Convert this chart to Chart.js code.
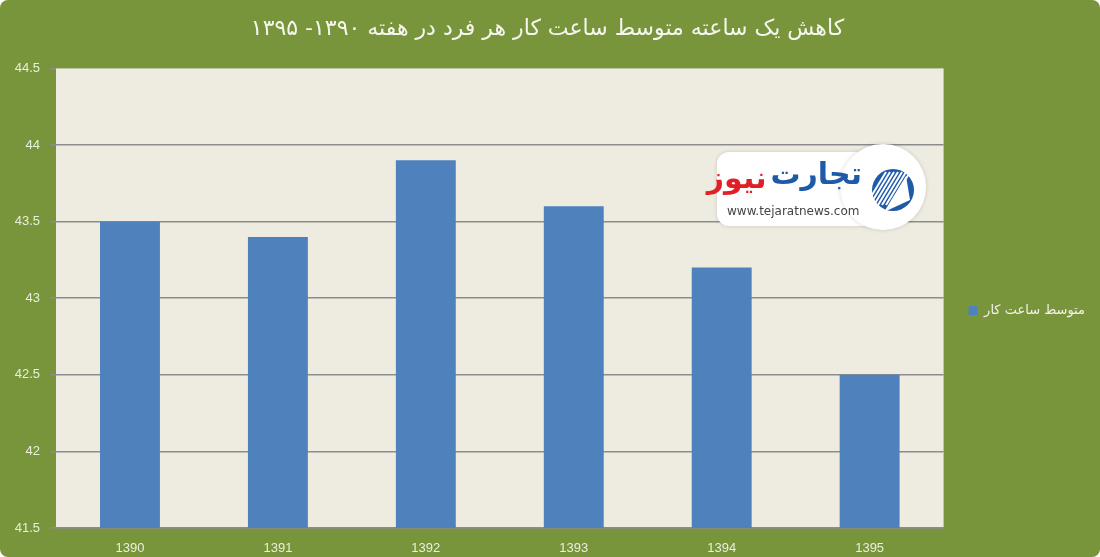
<!DOCTYPE html>
<html><head><meta charset="utf-8">
<script src="https://cdn.jsdelivr.net/npm/chart.js@4/dist/chart.umd.min.js"></script>
<style>
html,body{margin:0;padding:0;background:#ffffff;}
#wrap{width:1100px;height:557px;position:relative;background:#78953c;border-radius:8px;overflow:hidden;}
canvas{display:block}
</style></head><body>
<div id="wrap"><canvas id="c" width="1100" height="557"></canvas></div>
<script>
const titleText = "کاهش یک ساعته متوسط ساعت کار هر فرد در هفته ۱۳۹۰- ۱۳۹۵";
const seriesName = "متوسط ساعت کار";
const categories = ["1390", "1391", "1392", "1393", "1394", "1395"];
const hours = [43.5, 43.4, 43.9, 43.6, 43.2, 42.5];
const yTicks = [41.5, 42, 42.5, 43, 43.5, 44, 44.5];
const yTickLabels = ["41.5", "42", "42.5", "43", "43.5", "44", "44.5"];

const plotBg = {
  id: 'plotBg',
  beforeDraw(chart) {
    const a = chart.chartArea, ctx = chart.ctx;
    ctx.save();
    ctx.fillStyle = '#eeece1';
    ctx.fillRect(a.left, a.top, a.right - a.left, a.bottom - a.top);
    ctx.restore();
  }
};

const logo = {
  id: 'logo',
  afterDraw(chart) {
    const ctx = chart.ctx;
    ctx.save();
    ctx.shadowColor = 'rgba(0,0,0,0.15)';
    ctx.shadowBlur = 4;
    ctx.fillStyle = '#ffffff';
    ctx.beginPath();
    ctx.roundRect(717, 152, 170, 74, 12);
    ctx.fill();
    ctx.beginPath();
    ctx.arc(883, 187, 43, 0, Math.PI * 2);
    ctx.fill();
    ctx.shadowBlur = 0;
    ctx.fillStyle = '#1e5aa8';
    ctx.beginPath();
    ctx.arc(893, 190, 21, 0, Math.PI * 2);
    ctx.fill();
    ctx.strokeStyle = '#ffffff';
    ctx.lineWidth = 2;
    for (let i = -3; i <= 3; i++) {
      ctx.beginPath();
      ctx.moveTo(878 + i * 4, 205);
      ctx.lineTo(898 + i * 4, 172);
      ctx.stroke();
    }
    ctx.fillStyle = '#ffffff';
    ctx.beginPath();
    ctx.moveTo(884, 212); ctx.lineTo(906, 176); ctx.lineTo(910, 200); ctx.closePath();
    ctx.fill();
    ctx.font = 'bold 30px "DejaVu Sans"';
    ctx.textBaseline = 'middle';
    ctx.textAlign = 'right';
    ctx.fillStyle = '#1e5aa8';
    ctx.fillText('تجارت', 862, 176);
    const w = ctx.measureText('تجارت').width;
    ctx.fillStyle = '#e11f26';
    ctx.fillText('نیوز', 858 - w, 180);
    ctx.font = '12px "DejaVu Sans"';
    ctx.fillStyle = '#444444';
    ctx.textAlign = 'left';
    ctx.fillText('www.tejaratnews.com', 727, 212);
    ctx.restore();
  }
};

function tickLabel(v) {
  for (let i = 0; i < yTicks.length; i++) {
    if (Math.abs(yTicks[i] - v) < 1e-6) return yTickLabels[i];
  }
  return '';
}

new Chart(document.getElementById('c'), {
  type: 'bar',
  data: {
    labels: categories,
    datasets: [{
      label: seriesName,
      data: hours,
      backgroundColor: '#4f81bd',
      borderWidth: 0,
      barPercentage: 0.405,
      categoryPercentage: 1.0
    }]
  },
  options: {
    responsive: false,
    maintainAspectRatio: false,
    devicePixelRatio: 1,
    animation: false,
    layout: { padding: { left: 0, right: 5, top: 0, bottom: 0 } },
    plugins: {
      title: {
        display: true,
        text: '\u202B' + titleText + '\u202C',
        color: '#f6f6f0',
        font: { family: '"DejaVu Sans"', size: 22, weight: 'normal', lineHeight: 1.2 },
        padding: { top: 16, bottom: 26 }
      },
      legend: {
        position: 'right',
        title: {
          display: true,
          text: ' ',
          font: { size: 10 },
          padding: { top: 0, bottom: 52 }
        },
        labels: {
          boxWidth: 9,
          boxHeight: 9,
          padding: 25,
          color: '#f2f2ea',
          font: { family: '"DejaVu Sans"', size: 13 }
        }
      },
      tooltip: { enabled: false }
    },
    scales: {
      x: {
        grid: { display: false, drawTicks: false },
        border: { display: true, color: '#8c8c8c', width: 1.5 },
        ticks: { color: '#e9efd9', padding: 13, font: { family: '"Liberation Sans"', size: 13 } },
        afterFit(s) { s.height = 29; }
      },
      y: {
        min: 41.5,
        max: 44.5,
        ticks: {
          stepSize: 0.5,
          color: '#e9efd9',
          padding: 10,
          font: { family: '"Liberation Sans"', size: 13 },
          callback: (v) => tickLabel(v)
        },
        grid: {
          color: (c) => (c.tick && Math.abs(c.tick.value - 44.5) < 1e-6) ? 'rgba(0,0,0,0)' : '#8c8c8c',
          tickColor: '#8c8c8c',
          lineWidth: 1.5,
          tickLength: 6
        },
        border: { display: false },
        afterFit(s) { s.width = 56; }
      }
    }
  },
  plugins: [plotBg, logo]
});
</script>
</body></html>
